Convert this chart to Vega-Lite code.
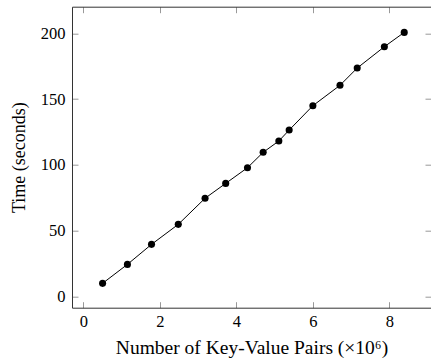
{
  "$schema": "https://vega.github.io/schema/vega-lite/v6.json",
  "autosize": {"type": "none"},
  "width": 359,
  "height": 301,
  "padding": {"left": 72, "top": 6.7, "right": 0, "bottom": 51.3},
  "background": "white",
  "config": {
    "view": {"stroke": null},
    "font": "Liberation Serif",
    "axis": {
      "labelFont": "Liberation Serif",
      "titleFont": "Liberation Serif",
      "labelFontSize": 16.5,
      "titleFontSize": 18.5,
      "titleFontWeight": "normal",
      "labelColor": "#000",
      "titleColor": "#000",
      "grid": false,
      "domainColor": "#333",
      "domainWidth": 1,
      "tickColor": "#999",
      "tickWidth": 1,
      "tickSize": -6
    }
  },
  "data": {"values": [
    {"n": 0.5, "t": 10.1},
    {"n": 1.15, "t": 24.5},
    {"n": 1.78, "t": 39.7},
    {"n": 2.48, "t": 54.9},
    {"n": 3.18, "t": 74.7},
    {"n": 3.72, "t": 86.0},
    {"n": 4.29, "t": 97.9},
    {"n": 4.70, "t": 109.6},
    {"n": 5.11, "t": 118.2},
    {"n": 5.38, "t": 126.5},
    {"n": 6.0, "t": 145.0},
    {"n": 6.71, "t": 160.5},
    {"n": 7.16, "t": 173.6},
    {"n": 7.87, "t": 189.8},
    {"n": 8.39, "t": 200.7}
  ]},
  "resolve": {"axis": {"x": "independent", "y": "independent"}},
  "layer": [
    {
      "mark": {"type": "line", "color": "#000", "strokeWidth": 1},
      "encoding": {
        "x": {"field": "n", "type": "quantitative",
              "scale": {"domain": [-0.3, 9.09], "nice": false, "zero": false},
              "axis": {"orient": "bottom", "title": "Number of Key-Value Pairs (×10⁶)", "values": [0, 2, 4, 6, 8],
                       "labelBaseline": "alphabetic", "labelPadding": 24.3,
                       "titleFontSize": 19.5, "titleBaseline": "alphabetic", "titleY": 45.6}},
        "y": {"field": "t", "type": "quantitative",
              "scale": {"domain": [-8.4, 220.2], "nice": false, "zero": false},
              "axis": {"orient": "left", "title": "Time (seconds)", "values": [0, 50, 100, 150, 200], "labelPadding": 13,
                       "titleFontSize": 18, "titleBaseline": "alphabetic", "titleX": -48}}
      }
    },
    {
      "mark": {"type": "point", "filled": true, "color": "#000", "opacity": 1, "size": 50},
      "encoding": {
        "x": {"field": "n", "type": "quantitative",
              "scale": {"domain": [-0.3, 9.09], "nice": false, "zero": false},
              "axis": {"orient": "top", "title": null, "labels": false, "values": [0, 2, 4, 6, 8]}},
        "y": {"field": "t", "type": "quantitative",
              "scale": {"domain": [-8.4, 220.2], "nice": false, "zero": false},
              "axis": {"orient": "right", "title": null, "labels": false, "domain": false, "values": [0, 50, 100, 150, 200]}}
      }
    }
  ]
}
